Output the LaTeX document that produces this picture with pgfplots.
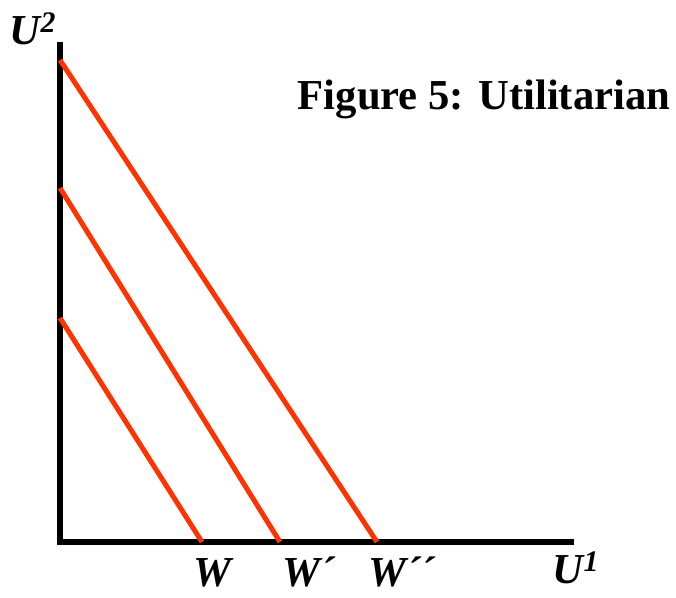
\documentclass[border=0pt]{standalone}
\usepackage{pgfplots}
\pgfplotsset{compat=1.18}
\usepackage{fontspec}
\setmainfont{Liberation Serif}
\definecolor{redline}{RGB}{255,51,0}
\begin{document}
\begin{tikzpicture}
\begin{axis}[
  x=0.75pt, y=0.75pt,
  xmin=0, xmax=511, ymin=0, ymax=497,
  axis lines=left,
  axis line style={line width=4.5pt, -, line cap=rect},
  xtick=\empty, ytick=\empty,
  clip=false,
]
\addplot[redline, line width=3.75pt, line cap=butt] coordinates {(0,224) (142,0)};
\addplot[redline, line width=3.75pt, line cap=butt] coordinates {(0,354) (220,0)};
\addplot[redline, line width=3.75pt, line cap=butt] coordinates {(0,482) (317,0)};
\path (axis cs:-60,-56) rectangle (axis cs:616,542);
\tikzset{lab/.style={anchor=base, inner sep=0pt, font=\fontsize{32}{36}\selectfont\bfseries\itshape}}
\node[lab] at (axis cs:152,-45) {W};
\node[lab] at (axis cs:249,-45) {W´};
\node[lab] at (axis cs:342,-45) {W´´};
\node[lab] at (axis cs:516,-42) {U\textsuperscript{1}};
\node[lab] at (axis cs:-27,497) {U\textsuperscript{2}};
\node[anchor=base, inner sep=0pt, font=\fontsize{32}{36}\selectfont\bfseries] at (axis cs:424,432) {Figure 5: Utilitarian};
\end{axis}
\end{tikzpicture}
\end{document}
